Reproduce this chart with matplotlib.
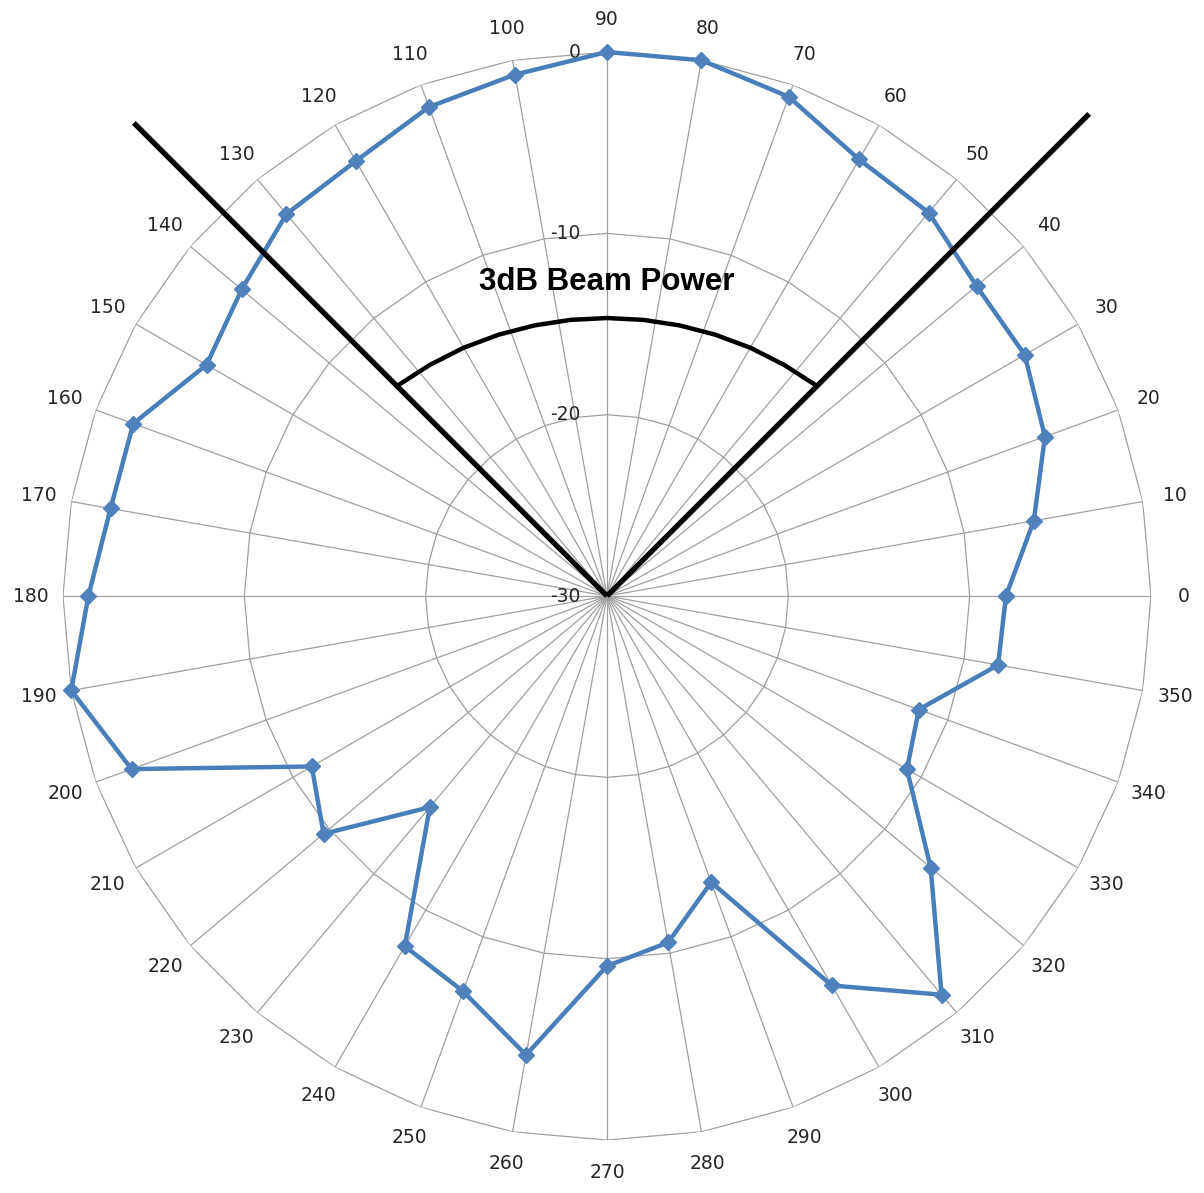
import matplotlib.pyplot as plt
import matplotlib.transforms as mtransforms
import numpy as np

# data ----------------------------------------------------------------------------------------------------------
angles = list(range(0, 360, 10))
power_db = [-8.0, -6.1, -4.3, -3.4, -3.4, -2.4, -2.2, -0.7, 0.0, 0.0,
            -0.8, -1.3, -2.3, -2.5, -3.7, -4.5, -2.2, -2.2, -1.4, 0.0,
            -2.1, -11.2, -9.6, -14.8, -7.7, -6.8, -4.3, -9.6, -10.6, -13.2,
            -5.2, -1.3, -6.7, -10.9, -11.7, -8.1]
angle_labels = [str(a) for a in angles]
ring_values = [-30, -20, -10, 0]

# 3dB beam annotation
beam_angles = [45, 135]
beam_ends = [7.6, 6.9]
arc_angles = [45, 52.5, 60, 67.5, 75, 82.5, 90, 97.5, 105, 112.5, 120, 127.5, 135]
arc_r = [-13.62, -13.94, -14.19, -14.40, -14.55, -14.64, -14.67,
         -14.64, -14.55, -14.40, -14.19, -13.94, -13.62]

grid_col = '#a0a0a0'
blue = '#4A7EBB'

# plot ----------------------------------------------------------------------------------------------------------
fig = plt.figure(figsize=(12.04, 11.93), dpi=100)
ax = fig.add_axes([0.0523, 0.0444, 0.9037, 0.912], projection='polar')
ax.set_ylim(-30, 0)
ax.spines['polar'].set_visible(False)
ax.yaxis.grid(False)
ax.set_yticklabels([])
ax.xaxis.grid(True, color=grid_col, lw=0.9)
ax.set_thetagrids(angles, angle_labels, fontsize=13.5, color='#262626')
ax.tick_params(axis='x', pad=13)

# polygon rings like excel radar chart
ring_theta = np.deg2rad(angles + [360])
for rv in ring_values[1:]:
    ax.plot(ring_theta, [rv] * len(ring_theta), color=grid_col, lw=0.9, zorder=1)

# radial labels
offset = mtransforms.offset_copy(ax.transData, fig=fig, x=-26, y=0, units='dots')
for rv in ring_values:
    ax.text(np.pi / 2, rv, str(rv), transform=offset, ha='right', va='center',
            fontsize=13.5, color='#262626')

# data line
th = np.deg2rad(angles + [angles[0]])
vals = power_db + [power_db[0]]
ax.plot(th, vals, color=blue, lw=3.2, marker='D', markersize=8,
        markerfacecolor='#4F81BD', markeredgecolor='#4F81BD', clip_on=False, zorder=5)

# beam lines
for a, e in zip(beam_angles, beam_ends):
    ax.plot([np.deg2rad(a)] * 2, [-30, e], color='black', lw=3.8, clip_on=False,
            solid_capstyle='butt', zorder=6)
ax.plot(np.deg2rad(arc_angles), arc_r, color='black', lw=3.2, zorder=6)
ax.text(np.pi / 2, -12.7, '3dB Beam Power', ha='center', va='center',
        fontsize=22.5, fontweight='bold', family='Liberation Sans', zorder=7)

plt.savefig('out.png', dpi=100)
